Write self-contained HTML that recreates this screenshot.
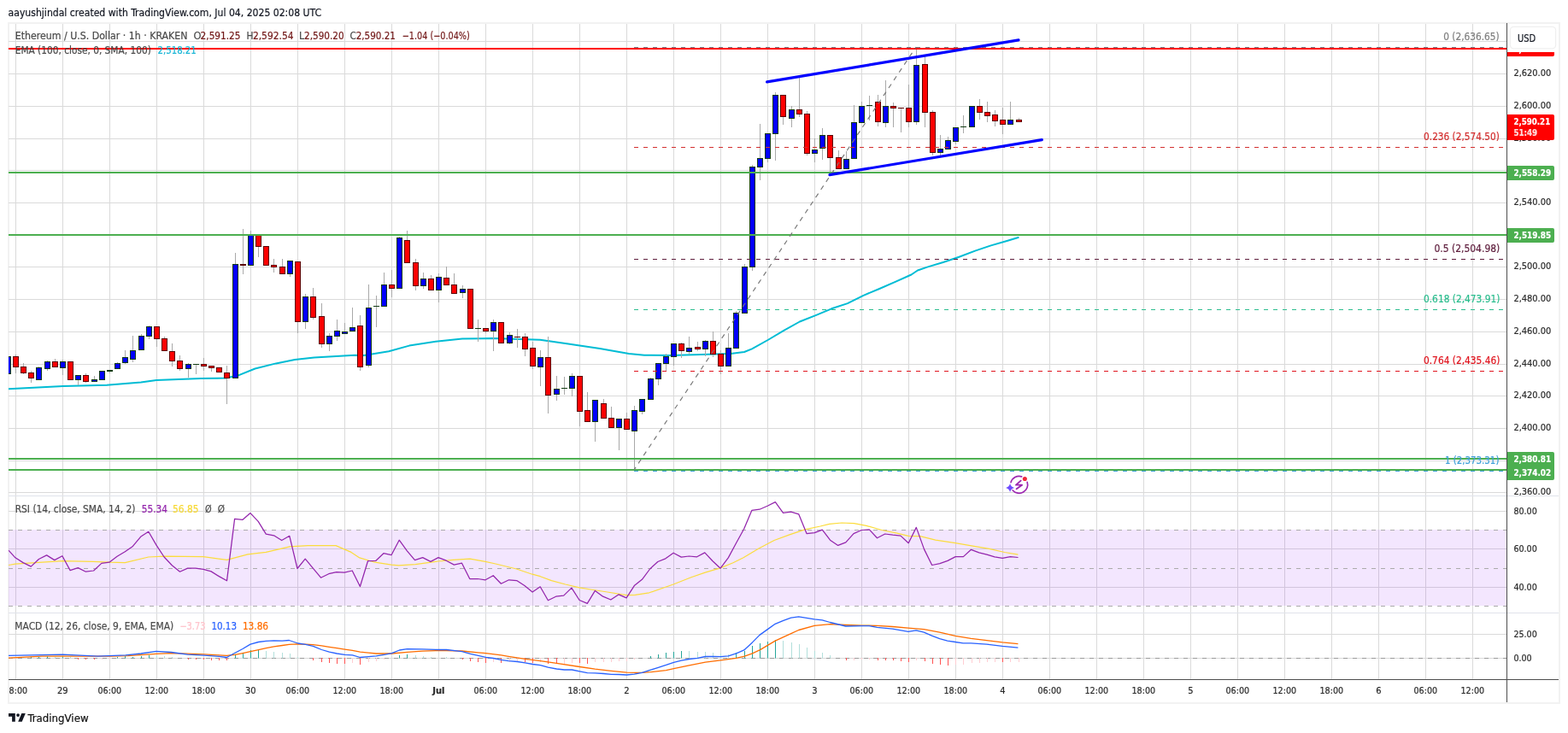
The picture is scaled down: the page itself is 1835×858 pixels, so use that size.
<!DOCTYPE html>
<html><head><meta charset="utf-8"><title>ETH/USD chart</title>
<style>
html,body{margin:0;padding:0;background:#fff;}
body{width:1835px;height:858px;overflow:hidden;}
svg{display:block;}
text{font-family:'DejaVu Sans Condensed', 'DejaVu Sans', 'Liberation Sans', sans-serif;font-stretch:condensed;stroke:currentColor;stroke-width:0.2px;}
</style></head><body>
<svg width="1835" height="858" viewBox="0 0 1835 858">
<defs>
<clipPath id="cm"><rect x="10" y="28" width="1753" height="552"/></clipPath>
<clipPath id="cr"><rect x="10" y="581" width="1753" height="136"/></clipPath>
<clipPath id="cd"><rect x="10" y="718" width="1753" height="77"/></clipPath>
<clipPath id="ct"><rect x="10" y="796" width="1753" height="26"/></clipPath>
</defs>
<rect x="0" y="0" width="1835" height="858" fill="#fff"/>

<rect x="10" y="27" width="1815" height="796" fill="none" stroke="#f2f2f2" stroke-width="2"/>
<path d="M18.5 28V795 M73.5 28V795 M128.5 28V795 M183.5 28V795 M238.5 28V795 M293.5 28V795 M348.5 28V795 M403.5 28V795 M458.5 28V795 M513.5 28V795 M568.5 28V795 M623.5 28V795 M678.5 28V795 M733.5 28V795 M788.5 28V795 M843.5 28V795 M898.5 28V795 M953.5 28V795 M1008.5 28V795 M1063.5 28V795 M1118.5 28V795 M1173.5 28V795 M1228.5 28V795 M1283.5 28V795 M1338.5 28V795 M1393.5 28V795 M1448.5 28V795 M1503.5 28V795 M1558.5 28V795 M1613.5 28V795 M1668.5 28V795 M1723.5 28V795" stroke="#dadada" stroke-width="1" fill="none"/>
<path d="M10 48.5H1763 M10 86.5H1763 M10 124.5H1763 M10 162.5H1763 M10 199.5H1763 M10 237.5H1763 M10 274.5H1763 M10 312.5H1763 M10 350.5H1763 M10 388.5H1763 M10 426.5H1763 M10 463.5H1763 M10 501.5H1763 M10 539.5H1763 M10 576.5H1763 M10 598.5H1763 M10 642.5H1763 M10 687.5H1763 M10 742.5H1763 M10 770.5H1763" stroke="#dadada" stroke-width="1" fill="none"/>
<rect x="10" y="620" width="1753" height="89" fill="rgb(163,63,247)" fill-opacity="0.13"/>
<path d="M10 620.5H1763M10 665.5H1763M10 709.5H1763" stroke="#ababab" stroke-width="1" stroke-dasharray="5 6" fill="none"/>
<path d="M10 770.5H1763" stroke="#9a9a9a" stroke-width="1" stroke-dasharray="5 6" fill="none"/>
<g clip-path="url(#cm)">
<polyline points="10,455.3 74,452 125,450.8 165,447.6 183,445 235,443.1 264,442.6 279,439.4 298.5,431.5 323,425.4 345,421 367.7,418.6 415,415.8 426,416.1 455,411.2 479,404.6 510,399.7 541,396.6 565,396.3 576,396.0 632,397.8 665,402.5 675,403.9 702,408.1 736,414.1 754,415.8 785,416.0 855,413.9 871,412 880,408.3 898.6,398 917.3,386.8 935.9,376.5 954.6,369.1 973.2,361.3 991.9,355.1 1010.5,345.8 1029.2,338 1047.8,329.9 1066.5,321.5 1073.9,316.5 1085.1,312.6 1103.8,307 1122.4,300.7 1141.1,293.6 1159.7,287.4 1178.4,282 1192.4,277.7" fill="none" stroke="#00bcd4" stroke-width="2" stroke-linejoin="round"/>
<path d="M9.5 414V440 M18.5 415V437 M27.5 425V438 M36.5 434V448 M45.5 429V445 M55.5 422V434 M64.5 420V430 M73.5 421V439 M82.5 423V445 M91.5 439V451 M100.5 437V448 M110.5 440V447 M119.5 434V445 M128.5 433V437 M137.5 424V432 M146.5 410V426 M155.5 393V424 M165.5 391V410 M174.5 381V397 M183.5 382V406 M192.5 394V411 M201.5 402V429 M210.5 416V434 M220.5 425V442 M229.5 426V438 M238.5 419V434 M247.5 428V435 M256.5 430V436 M265.5 428V473 M275.5 296V443 M284.5 268V321 M293.5 270V311 M302.5 275V301 M311.5 288V311 M320.5 303V319 M330.5 303V321 M339.5 305V324 M348.5 306V390 M357.5 344V385 M366.5 337V374 M376.5 355V407 M385.5 390V411 M394.5 374V399 M403.5 378V391 M412.5 360V388 M421.5 369V434 M431.5 333V430 M440.5 346V383 M449.5 319V359 M458.5 316V348 M467.5 277V338 M476.5 270V308 M486.5 303V340 M495.5 319V338 M504.5 322V340 M513.5 320V354 M522.5 312V334 M531.5 320V344 M541.5 334V349 M550.5 338V385 M559.5 374V400 M568.5 384V390 M577.5 374V411 M586.5 377V402 M596.5 389V403 M605.5 385V407 M614.5 390V417 M623.5 400V432 M632.5 410V452 M641.5 394V484 M651.5 440V469 M660.5 441V462 M669.5 437V464 M678.5 440V499 M687.5 459V494 M696.5 468V517 M706.5 467V490 M715.5 476V501 M724.5 490V527 M733.5 483V503 M742.5 475V550 M751.5 467V485 M761.5 442V468 M770.5 425V451 M779.5 414V435 M788.5 402V428 M797.5 401V419 M806.5 394V415 M816.5 400V411 M825.5 398V417 M834.5 388V418 M843.5 410V438 M852.5 390V429 M861.5 364V408 M871.5 309V367 M880.5 193V317 M889.5 145V211 M898.5 156V190 M907.5 108V188 M916.5 111V146 M926.5 124V149 M935.5 91V137 M944.5 130V182 M953.5 162V190 M962.5 150V187 M971.5 158V202 M981.5 176V198 M990.5 177V198 M999.5 123V186 M1008.5 119V144 M1017.5 112V141 M1027.5 111V148 M1036.5 94V149 M1045.5 120V149 M1054.5 126V155 M1063.5 99V149 M1072.5 55V146 M1082.5 66V149 M1091.5 129V182 M1100.5 158V182 M1109.5 160V175 M1118.5 149V169 M1127.5 135V156 M1137.5 124V149 M1146.5 116V140 M1155.5 119V143 M1164.5 129V148 M1173.5 126V157 M1182.5 119V146 M1192.5 138V143" stroke="#a9a9a9" stroke-width="1" fill="none"/>
<g shape-rendering="crispEdges"><rect x="6" y="417" width="7" height="21" fill="#123c12"/><rect x="7" y="418" width="5" height="19" fill="#0000ff"/><rect x="15" y="417" width="7" height="13" fill="#5a0000"/><rect x="16" y="418" width="5" height="11" fill="#ff0000"/><rect x="24" y="429" width="7" height="8" fill="#5a0000"/><rect x="25" y="430" width="5" height="6" fill="#ff0000"/><rect x="33" y="436" width="7" height="7" fill="#5a0000"/><rect x="34" y="437" width="5" height="5" fill="#ff0000"/><rect x="42" y="430" width="7" height="15" fill="#123c12"/><rect x="43" y="431" width="5" height="13" fill="#0000ff"/><rect x="52" y="423" width="7" height="9" fill="#123c12"/><rect x="53" y="424" width="5" height="7" fill="#0000ff"/><rect x="61" y="423" width="7" height="7" fill="#5a0000"/><rect x="62" y="424" width="5" height="5" fill="#ff0000"/><rect x="70" y="423" width="7" height="8" fill="#123c12"/><rect x="71" y="424" width="5" height="6" fill="#0000ff"/><rect x="79" y="423" width="7" height="22" fill="#5a0000"/><rect x="80" y="424" width="5" height="20" fill="#ff0000"/><rect x="88" y="439" width="7" height="6" fill="#123c12"/><rect x="89" y="440" width="5" height="4" fill="#0000ff"/><rect x="97" y="439" width="7" height="8" fill="#5a0000"/><rect x="98" y="440" width="5" height="6" fill="#ff0000"/><rect x="107" y="444" width="7" height="3" fill="#123c12"/><rect x="108" y="445" width="5" height="1" fill="#0000ff"/><rect x="116" y="434" width="7" height="11" fill="#123c12"/><rect x="117" y="435" width="5" height="9" fill="#0000ff"/><rect x="125" y="433" width="7" height="2" fill="#123c12"/><rect x="134" y="425" width="7" height="7" fill="#123c12"/><rect x="135" y="426" width="5" height="5" fill="#0000ff"/><rect x="143" y="418" width="7" height="7" fill="#123c12"/><rect x="144" y="419" width="5" height="5" fill="#0000ff"/><rect x="152" y="410" width="7" height="11" fill="#123c12"/><rect x="153" y="411" width="5" height="9" fill="#0000ff"/><rect x="162" y="393" width="7" height="17" fill="#123c12"/><rect x="163" y="394" width="5" height="15" fill="#0000ff"/><rect x="171" y="382" width="7" height="12" fill="#123c12"/><rect x="172" y="383" width="5" height="10" fill="#0000ff"/><rect x="180" y="382" width="7" height="15" fill="#5a0000"/><rect x="181" y="383" width="5" height="13" fill="#ff0000"/><rect x="189" y="396" width="7" height="15" fill="#5a0000"/><rect x="190" y="397" width="5" height="13" fill="#ff0000"/><rect x="198" y="411" width="7" height="12" fill="#5a0000"/><rect x="199" y="412" width="5" height="10" fill="#ff0000"/><rect x="207" y="422" width="7" height="10" fill="#5a0000"/><rect x="208" y="423" width="5" height="8" fill="#ff0000"/><rect x="217" y="426" width="7" height="6" fill="#123c12"/><rect x="218" y="427" width="5" height="4" fill="#0000ff"/><rect x="226" y="426" width="7" height="1" fill="#123c12"/><rect x="235" y="426" width="7" height="3" fill="#5a0000"/><rect x="236" y="427" width="5" height="1" fill="#ff0000"/><rect x="244" y="428" width="7" height="3" fill="#5a0000"/><rect x="245" y="429" width="5" height="1" fill="#ff0000"/><rect x="253" y="430" width="7" height="6" fill="#5a0000"/><rect x="254" y="431" width="5" height="4" fill="#ff0000"/><rect x="262" y="436" width="7" height="7" fill="#5a0000"/><rect x="263" y="437" width="5" height="5" fill="#ff0000"/><rect x="272" y="309" width="7" height="134" fill="#123c12"/><rect x="273" y="310" width="5" height="132" fill="#0000ff"/><rect x="281" y="309" width="7" height="2" fill="#5a0000"/><rect x="290" y="275" width="7" height="36" fill="#123c12"/><rect x="291" y="276" width="5" height="34" fill="#0000ff"/><rect x="299" y="275" width="7" height="14" fill="#5a0000"/><rect x="300" y="276" width="5" height="12" fill="#ff0000"/><rect x="308" y="288" width="7" height="23" fill="#5a0000"/><rect x="309" y="289" width="5" height="21" fill="#ff0000"/><rect x="317" y="310" width="7" height="3" fill="#5a0000"/><rect x="318" y="311" width="5" height="1" fill="#ff0000"/><rect x="327" y="312" width="7" height="9" fill="#5a0000"/><rect x="328" y="313" width="5" height="7" fill="#ff0000"/><rect x="336" y="305" width="7" height="16" fill="#123c12"/><rect x="337" y="306" width="5" height="14" fill="#0000ff"/><rect x="345" y="306" width="7" height="71" fill="#5a0000"/><rect x="346" y="307" width="5" height="69" fill="#ff0000"/><rect x="354" y="347" width="7" height="30" fill="#123c12"/><rect x="355" y="348" width="5" height="28" fill="#0000ff"/><rect x="363" y="347" width="7" height="25" fill="#5a0000"/><rect x="364" y="348" width="5" height="23" fill="#ff0000"/><rect x="373" y="370" width="7" height="33" fill="#5a0000"/><rect x="374" y="371" width="5" height="31" fill="#ff0000"/><rect x="382" y="393" width="7" height="10" fill="#123c12"/><rect x="383" y="394" width="5" height="8" fill="#0000ff"/><rect x="391" y="387" width="7" height="7" fill="#123c12"/><rect x="392" y="388" width="5" height="5" fill="#0000ff"/><rect x="400" y="388" width="7" height="3" fill="#123c12"/><rect x="401" y="389" width="5" height="1" fill="#0000ff"/><rect x="409" y="383" width="7" height="5" fill="#123c12"/><rect x="410" y="384" width="5" height="3" fill="#0000ff"/><rect x="418" y="381" width="7" height="49" fill="#5a0000"/><rect x="419" y="382" width="5" height="47" fill="#ff0000"/><rect x="428" y="360" width="7" height="68" fill="#123c12"/><rect x="429" y="361" width="5" height="66" fill="#0000ff"/><rect x="437" y="358" width="7" height="1" fill="#123c12"/><rect x="446" y="333" width="7" height="26" fill="#123c12"/><rect x="447" y="334" width="5" height="24" fill="#0000ff"/><rect x="455" y="333" width="7" height="5" fill="#5a0000"/><rect x="456" y="334" width="5" height="3" fill="#ff0000"/><rect x="464" y="278" width="7" height="60" fill="#123c12"/><rect x="465" y="279" width="5" height="58" fill="#0000ff"/><rect x="473" y="281" width="7" height="27" fill="#5a0000"/><rect x="474" y="282" width="5" height="25" fill="#ff0000"/><rect x="483" y="307" width="7" height="28" fill="#5a0000"/><rect x="484" y="308" width="5" height="26" fill="#ff0000"/><rect x="492" y="326" width="7" height="9" fill="#123c12"/><rect x="493" y="327" width="5" height="7" fill="#0000ff"/><rect x="501" y="326" width="7" height="14" fill="#5a0000"/><rect x="502" y="327" width="5" height="12" fill="#ff0000"/><rect x="510" y="324" width="7" height="16" fill="#123c12"/><rect x="511" y="325" width="5" height="14" fill="#0000ff"/><rect x="519" y="325" width="7" height="9" fill="#5a0000"/><rect x="520" y="326" width="5" height="7" fill="#ff0000"/><rect x="528" y="333" width="7" height="11" fill="#5a0000"/><rect x="529" y="334" width="5" height="9" fill="#ff0000"/><rect x="538" y="338" width="7" height="5" fill="#123c12"/><rect x="539" y="339" width="5" height="3" fill="#0000ff"/><rect x="547" y="338" width="7" height="47" fill="#5a0000"/><rect x="548" y="339" width="5" height="45" fill="#ff0000"/><rect x="556" y="384" width="7" height="1" fill="#123c12"/><rect x="565" y="384" width="7" height="4" fill="#5a0000"/><rect x="566" y="385" width="5" height="2" fill="#ff0000"/><rect x="574" y="377" width="7" height="11" fill="#123c12"/><rect x="575" y="378" width="5" height="9" fill="#0000ff"/><rect x="583" y="377" width="7" height="25" fill="#5a0000"/><rect x="584" y="378" width="5" height="23" fill="#ff0000"/><rect x="593" y="392" width="7" height="10" fill="#123c12"/><rect x="594" y="393" width="5" height="8" fill="#0000ff"/><rect x="602" y="394" width="7" height="1" fill="#5a0000"/><rect x="611" y="394" width="7" height="15" fill="#5a0000"/><rect x="612" y="395" width="5" height="13" fill="#ff0000"/><rect x="620" y="407" width="7" height="22" fill="#5a0000"/><rect x="621" y="408" width="5" height="20" fill="#ff0000"/><rect x="629" y="418" width="7" height="12" fill="#123c12"/><rect x="630" y="419" width="5" height="10" fill="#0000ff"/><rect x="638" y="418" width="7" height="45" fill="#5a0000"/><rect x="639" y="419" width="5" height="43" fill="#ff0000"/><rect x="648" y="455" width="7" height="7" fill="#123c12"/><rect x="649" y="456" width="5" height="5" fill="#0000ff"/><rect x="657" y="454" width="7" height="1" fill="#123c12"/><rect x="666" y="440" width="7" height="15" fill="#123c12"/><rect x="667" y="441" width="5" height="13" fill="#0000ff"/><rect x="675" y="440" width="7" height="42" fill="#5a0000"/><rect x="676" y="441" width="5" height="40" fill="#ff0000"/><rect x="684" y="480" width="7" height="14" fill="#5a0000"/><rect x="685" y="481" width="5" height="12" fill="#ff0000"/><rect x="693" y="468" width="7" height="26" fill="#123c12"/><rect x="694" y="469" width="5" height="24" fill="#0000ff"/><rect x="703" y="472" width="7" height="18" fill="#5a0000"/><rect x="704" y="473" width="5" height="16" fill="#ff0000"/><rect x="712" y="489" width="7" height="12" fill="#5a0000"/><rect x="713" y="490" width="5" height="10" fill="#ff0000"/><rect x="721" y="490" width="7" height="11" fill="#123c12"/><rect x="722" y="491" width="5" height="9" fill="#0000ff"/><rect x="730" y="490" width="7" height="13" fill="#5a0000"/><rect x="731" y="491" width="5" height="11" fill="#ff0000"/><rect x="739" y="480" width="7" height="25" fill="#123c12"/><rect x="740" y="481" width="5" height="23" fill="#0000ff"/><rect x="748" y="467" width="7" height="15" fill="#123c12"/><rect x="749" y="468" width="5" height="13" fill="#0000ff"/><rect x="758" y="443" width="7" height="25" fill="#123c12"/><rect x="759" y="444" width="5" height="23" fill="#0000ff"/><rect x="767" y="425" width="7" height="19" fill="#123c12"/><rect x="768" y="426" width="5" height="17" fill="#0000ff"/><rect x="776" y="417" width="7" height="9" fill="#123c12"/><rect x="777" y="418" width="5" height="7" fill="#0000ff"/><rect x="785" y="402" width="7" height="16" fill="#123c12"/><rect x="786" y="403" width="5" height="14" fill="#0000ff"/><rect x="794" y="402" width="7" height="9" fill="#5a0000"/><rect x="795" y="403" width="5" height="7" fill="#ff0000"/><rect x="803" y="407" width="7" height="5" fill="#123c12"/><rect x="804" y="408" width="5" height="3" fill="#0000ff"/><rect x="813" y="406" width="7" height="3" fill="#5a0000"/><rect x="814" y="407" width="5" height="1" fill="#ff0000"/><rect x="822" y="399" width="7" height="10" fill="#123c12"/><rect x="823" y="400" width="5" height="8" fill="#0000ff"/><rect x="831" y="399" width="7" height="16" fill="#5a0000"/><rect x="832" y="400" width="5" height="14" fill="#ff0000"/><rect x="840" y="414" width="7" height="15" fill="#5a0000"/><rect x="841" y="415" width="5" height="13" fill="#ff0000"/><rect x="849" y="407" width="7" height="22" fill="#123c12"/><rect x="850" y="408" width="5" height="20" fill="#0000ff"/><rect x="858" y="366" width="7" height="42" fill="#123c12"/><rect x="859" y="367" width="5" height="40" fill="#0000ff"/><rect x="868" y="312" width="7" height="55" fill="#123c12"/><rect x="869" y="313" width="5" height="53" fill="#0000ff"/><rect x="877" y="195" width="7" height="118" fill="#123c12"/><rect x="878" y="196" width="5" height="116" fill="#0000ff"/><rect x="886" y="185" width="7" height="11" fill="#123c12"/><rect x="887" y="186" width="5" height="9" fill="#0000ff"/><rect x="895" y="156" width="7" height="30" fill="#123c12"/><rect x="896" y="157" width="5" height="28" fill="#0000ff"/><rect x="904" y="111" width="7" height="46" fill="#123c12"/><rect x="905" y="112" width="5" height="44" fill="#0000ff"/><rect x="913" y="111" width="7" height="26" fill="#5a0000"/><rect x="914" y="112" width="5" height="24" fill="#ff0000"/><rect x="923" y="128" width="7" height="11" fill="#123c12"/><rect x="924" y="129" width="5" height="9" fill="#0000ff"/><rect x="932" y="128" width="7" height="6" fill="#5a0000"/><rect x="933" y="129" width="5" height="4" fill="#ff0000"/><rect x="941" y="133" width="7" height="47" fill="#5a0000"/><rect x="942" y="134" width="5" height="45" fill="#ff0000"/><rect x="950" y="175" width="7" height="5" fill="#123c12"/><rect x="951" y="176" width="5" height="3" fill="#0000ff"/><rect x="959" y="158" width="7" height="16" fill="#123c12"/><rect x="960" y="159" width="5" height="14" fill="#0000ff"/><rect x="968" y="158" width="7" height="27" fill="#5a0000"/><rect x="969" y="159" width="5" height="25" fill="#ff0000"/><rect x="978" y="184" width="7" height="14" fill="#5a0000"/><rect x="979" y="185" width="5" height="12" fill="#ff0000"/><rect x="987" y="186" width="7" height="12" fill="#123c12"/><rect x="988" y="187" width="5" height="10" fill="#0000ff"/><rect x="996" y="143" width="7" height="43" fill="#123c12"/><rect x="997" y="144" width="5" height="41" fill="#0000ff"/><rect x="1005" y="124" width="7" height="20" fill="#123c12"/><rect x="1006" y="125" width="5" height="18" fill="#0000ff"/><rect x="1014" y="123" width="7" height="1" fill="#123c12"/><rect x="1024" y="119" width="7" height="24" fill="#5a0000"/><rect x="1025" y="120" width="5" height="22" fill="#ff0000"/><rect x="1033" y="124" width="7" height="20" fill="#123c12"/><rect x="1034" y="125" width="5" height="18" fill="#0000ff"/><rect x="1042" y="124" width="7" height="3" fill="#5a0000"/><rect x="1043" y="125" width="5" height="1" fill="#ff0000"/><rect x="1051" y="126" width="7" height="1" fill="#5a0000"/><rect x="1060" y="126" width="7" height="17" fill="#5a0000"/><rect x="1061" y="127" width="5" height="15" fill="#ff0000"/><rect x="1069" y="76" width="7" height="67" fill="#123c12"/><rect x="1070" y="77" width="5" height="65" fill="#0000ff"/><rect x="1079" y="75" width="7" height="57" fill="#5a0000"/><rect x="1080" y="76" width="5" height="55" fill="#ff0000"/><rect x="1088" y="131" width="7" height="48" fill="#5a0000"/><rect x="1089" y="132" width="5" height="46" fill="#ff0000"/><rect x="1097" y="174" width="7" height="5" fill="#123c12"/><rect x="1098" y="175" width="5" height="3" fill="#0000ff"/><rect x="1106" y="164" width="7" height="11" fill="#123c12"/><rect x="1107" y="165" width="5" height="9" fill="#0000ff"/><rect x="1115" y="149" width="7" height="17" fill="#123c12"/><rect x="1116" y="150" width="5" height="15" fill="#0000ff"/><rect x="1124" y="148" width="7" height="1" fill="#123c12"/><rect x="1134" y="124" width="7" height="25" fill="#123c12"/><rect x="1135" y="125" width="5" height="23" fill="#0000ff"/><rect x="1143" y="124" width="7" height="8" fill="#5a0000"/><rect x="1144" y="125" width="5" height="6" fill="#ff0000"/><rect x="1152" y="131" width="7" height="5" fill="#5a0000"/><rect x="1153" y="132" width="5" height="3" fill="#ff0000"/><rect x="1161" y="134" width="7" height="8" fill="#5a0000"/><rect x="1162" y="135" width="5" height="6" fill="#ff0000"/><rect x="1170" y="140" width="7" height="6" fill="#5a0000"/><rect x="1171" y="141" width="5" height="4" fill="#ff0000"/><rect x="1179" y="140" width="7" height="6" fill="#123c12"/><rect x="1180" y="141" width="5" height="4" fill="#0000ff"/><rect x="1189" y="140" width="7" height="3" fill="#5a0000"/><rect x="1190" y="141" width="5" height="1" fill="#ff0000"/></g>
<path d="M10 57H1763" stroke="#ff0000" stroke-width="2"/>
<path d="M10 202H1763" stroke="#4caf50" stroke-width="2"/>
<path d="M10 275H1763" stroke="#4caf50" stroke-width="2"/>
<path d="M10 537H1763" stroke="#4caf50" stroke-width="2"/>
<path d="M10 550H1763" stroke="#4caf50" stroke-width="2"/>
<path d="M742 55.5H1760" stroke="#787b86" stroke-width="1" stroke-dasharray="5 6" fill="none"/>
<path d="M742 172.5H1760" stroke="#d32f2f" stroke-width="1" stroke-dasharray="5 6" fill="none"/>
<path d="M742 303.5H1760" stroke="#5e1d3c" stroke-width="1" stroke-dasharray="5 6" fill="none"/>
<path d="M742 362.5H1760" stroke="#2bbd8e" stroke-width="1" stroke-dasharray="5 6" fill="none"/>
<path d="M742 434.5H1760" stroke="#e0141e" stroke-width="1" stroke-dasharray="5 6" fill="none"/>
<path d="M742 551.5H1760" stroke="#3f9fd8" stroke-width="1" stroke-dasharray="5 6" fill="none"/>
<path d="M742 550L1072 55" stroke="#767676" stroke-width="1.15" stroke-dasharray="5.5 5.5" stroke-dashoffset="1.8" fill="none"/>
<path d="M897.6 95.9L1192 46.8" stroke="#0000ff" stroke-width="3.2" stroke-linecap="round"/>
<path d="M971 204.7L1219.3 163.6" stroke="#0000ff" stroke-width="3.2" stroke-linecap="round"/>
</g>
<g clip-path="url(#cr)">
<polyline points="10,661.5 18,660.2 73,656.6 109.5,657.3 128,658.2 146.3,658.6 173.8,652 192.2,651.2 238,651.7 265.5,655.3 290,648.9 311.3,646.4 339,639.9 360.3,638.7 393,638.6 411,646.4 420.8,652.9 437.1,657.8 458.1,661.1 466.6,661.9 486.2,660.6 513,657 530.3,655.4 550,654.2 568,657.4 580,660 604.5,666 623,672.2 632.3,674.7 645.4,679.6 661.7,684 678.1,687.8 694.4,690.5 710.8,693 733,696.6 743.5,696.3 759.8,693.8 788,684 808.9,675.8 825.2,670.1 843,664.9 857.9,658.7 870,652.8 888,642 906,632.5 924,625.9 941.9,619.9 959.9,616 970.7,613.3 985.1,612 999.5,612.7 1013.9,615.4 1031.9,620.5 1049.8,624.1 1063,627.3 1076.8,627.7 1094.8,632.2 1118.2,635.7 1139.8,639.3 1157.7,642.4 1175.7,646.5 1191.4,649.2" fill="none" stroke="#fbdc3c" stroke-width="1.2" stroke-linejoin="round"/>
<polyline points="10.0,644.2 17.9,652.8 27.1,658.6 36.3,663.1 45.4,654.5 54.6,649.9 63.8,655.6 72.9,650.7 82.1,667.6 91.3,664.6 100.4,669.2 109.6,668.0 118.8,659.4 127.9,658.2 137.1,651.2 146.3,645.8 155.4,639.4 164.6,628.3 173.8,622.3 183.0,638.1 192.1,652.0 201.3,661.8 210.5,669.2 219.6,665.1 228.8,665.1 238.0,666.4 247.1,668.9 256.3,674.6 265.5,679.8 274.6,607.4 283.8,608.4 293.0,600.6 302.2,610.4 311.3,625.1 320.5,626.8 329.7,632.5 338.8,627.3 348.0,665.5 357.2,654.2 366.3,665.2 375.5,676.2 384.7,671.7 393.8,669.6 403.0,670.1 412.2,668.0 421.4,686.5 430.5,656.7 439.7,656.5 448.9,647.7 458.0,649.7 467.2,632.2 476.4,644.8 485.5,655.7 494.7,652.6 503.9,657.4 513.0,652.6 522.2,656.2 531.4,661.1 540.5,659.2 549.7,677.5 558.9,677.5 568.1,678.8 577.2,673.7 586.4,683.2 595.6,678.8 604.7,679.6 613.9,685.6 623.1,693.0 632.2,686.8 641.4,702.8 650.6,698.2 659.7,697.1 668.9,688.1 678.1,702.5 687.3,706.4 696.4,691.4 705.6,698.2 714.8,702.0 723.9,695.9 733.1,699.9 742.3,685.6 751.4,678.3 760.6,666.0 769.8,657.5 778.9,653.8 788.1,647.2 797.3,652.1 806.4,651.0 815.6,651.8 824.8,646.9 834.0,656.7 843.1,665.2 852.3,652.9 861.5,635.8 870.6,619.3 879.8,597.4 889.0,596.2 898.1,592.2 907.3,587.6 916.5,600.3 925.6,599.2 934.8,601.9 944.0,624.6 953.2,623.7 962.3,620.1 971.5,632.2 980.7,638.4 989.8,634.8 999.0,624.6 1008.2,620.5 1017.3,619.9 1026.5,629.8 1035.7,625.0 1044.8,626.2 1054.0,627.1 1063.2,635.7 1072.3,617.4 1081.5,642.9 1090.7,661.5 1099.9,659.7 1109.0,656.4 1118.2,651.6 1127.4,651.6 1136.5,643.3 1145.7,646.9 1154.9,649.2 1164.0,651.9 1173.2,653.4 1182.4,651.6 1191.5,652.5" fill="none" stroke="#9325ac" stroke-width="1.25" stroke-linejoin="round"/>
</g>
<g clip-path="url(#cd)">
<path d="M27.5 770.5V769 M64.5 770.5V769 M82.5 770.5V769 M183.5 770.5V767 M192.5 770.5V768 M201.5 770.5V769 M311.5 770.5V762 M320.5 770.5V763 M330.5 770.5V764 M339.5 770.5V765 M348.5 770.5V769 M486.5 770.5V767 M495.5 770.5V768 M504.5 770.5V769 M522.5 770.5V769 M806.5 770.5V762 M816.5 770.5V763 M825.5 770.5V763 M834.5 770.5V764 M843.5 770.5V765 M852.5 770.5V766 M916.5 770.5V750 M926.5 770.5V752 M935.5 770.5V754 M944.5 770.5V758 M953.5 770.5V762 M962.5 770.5V764 M971.5 770.5V767" stroke="#b2dfdb" stroke-width="1" fill="none"/>
<path d="M36.5 770.5V769 M45.5 770.5V769 M55.5 770.5V768 M73.5 770.5V768 M137.5 770.5V769 M146.5 770.5V768 M155.5 770.5V769 M165.5 770.5V768 M174.5 770.5V767 M275.5 770.5V767 M284.5 770.5V764 M293.5 770.5V761 M302.5 770.5V761 M467.5 770.5V767 M476.5 770.5V766 M761.5 770.5V768 M770.5 770.5V766 M779.5 770.5V764 M788.5 770.5V763 M797.5 770.5V762 M861.5 770.5V764 M871.5 770.5V762 M880.5 770.5V756 M889.5 770.5V753 M898.5 770.5V751 M907.5 770.5V749" stroke="#26a69a" stroke-width="1" fill="none"/>
<path d="M91.5 770V772 M100.5 770V772 M110.5 770V772 M220.5 770V772 M229.5 770V772 M238.5 770V772 M247.5 770V773 M256.5 770V773 M265.5 770V773 M366.5 770V773 M376.5 770V775 M385.5 770V776 M394.5 770V777 M403.5 770V777 M421.5 770V778 M541.5 770V772 M550.5 770V774 M559.5 770V775 M568.5 770V776 M586.5 770V776 M614.5 770V775 M623.5 770V776 M641.5 770V777 M651.5 770V777 M678.5 770V776 M687.5 770V777 M990.5 770V773 M1027.5 770V773 M1036.5 770V773 M1045.5 770V773 M1054.5 770V774 M1063.5 770V775 M1082.5 770V774 M1091.5 770V777 M1100.5 770V778 M1109.5 770V779 M1173.5 770V775" stroke="#ff5252" stroke-width="1" fill="none"/>
<path d="M119.5 770V772 M128.5 770V772 M412.5 770V776 M431.5 770V775 M440.5 770V774 M449.5 770V772 M577.5 770V775 M596.5 770V775 M605.5 770V775 M632.5 770V775 M660.5 770V777 M669.5 770V776 M696.5 770V775 M706.5 770V775 M715.5 770V775 M724.5 770V774 M733.5 770V774 M742.5 770V772 M999.5 770V773 M1008.5 770V772 M1017.5 770V772 M1072.5 770V773 M1118.5 770V778 M1127.5 770V778 M1137.5 770V776 M1146.5 770V776 M1155.5 770V775 M1164.5 770V775 M1182.5 770V775 M1192.5 770V775" stroke="#ffcdd2" stroke-width="1" fill="none"/>
<polyline points="10,770.2 49,768.1 130.8,768.1 150,767.6 182.7,765.4 200.7,764.6 219.5,765.1 239,765.9 256.3,766.8 265.3,767.3 275,766.4 284,764.6 293,762.7 302.5,760.7 311.4,758.7 320.5,756.9 330.4,755.5 338.3,754.4 348.6,753.8 357.6,754.2 366.4,754.6 376.4,755.8 385.4,757.3 394.3,758.7 403.5,760.1 412.5,761.4 421.5,763.2 431.3,764.2 440.3,765 458.5,765 476.5,763.4 494,762.2 513.5,761.4 531.5,761.8 540.7,762 559.5,763.8 568.5,764.6 586.5,766.9 595,768.4 614.5,771.4 632.4,773.6 651.4,776.4 678.4,780.5 696.4,783.2 715.4,785.4 733.3,787.1 745,787.4 751.4,787.4 761.4,786.6 779.5,784.6 788.5,782.7 806.5,778.8 825.4,775.2 843.4,772.9 852.4,771.7 861.6,770.4 871.4,768.2 880.5,764.9 890,760.4 907.2,750.1 925.7,741.6 934.7,737.5 953.1,732.4 971.4,730.6 989.8,731.5 1008.1,732.1 1026.5,732.4 1044.6,733.5 1063,735.1 1081.3,736.6 1099.7,740.2 1118,744.3 1136.3,747.4 1154.7,749.7 1173,751.9 1191.4,753.7" fill="none" stroke="#ff6d00" stroke-width="1.3" stroke-linejoin="round"/>
<polyline points="10,767.3 73.6,766.2 114.4,768.1 147,766.8 165,765 182.7,762.4 200.7,763.5 219.5,766.2 239,767.2 256.3,768.4 265.3,769.5 275,764.3 284,759.5 293,754.1 302.5,751.5 311.4,750.3 320.5,749.9 330.4,750.1 338.3,749.5 348.6,753 357.6,754.4 366.4,756.4 376.4,760.5 385.4,763.2 394.3,765 403.5,766.4 412.5,766.9 421.5,769.5 431.3,768.7 440.3,767.9 449.5,766.4 458.5,764.6 467.5,761 476.5,759.7 494,759.9 513.5,760.5 522.5,760.5 540.7,762.6 550.5,765.4 568.5,769.4 577.5,770.5 586.5,772.4 595,773.6 605.5,774.5 614.5,775.9 623.5,777.5 632.4,778.7 641.4,781.2 651.4,783 660.4,784 669.4,784 678.4,785.9 687.4,787.7 696.4,787.9 706.4,788.5 715.4,789.3 724.4,789.5 733.3,790 742.3,789.2 751.4,787.4 761.4,784.2 770.4,781.3 779.5,778.4 788.5,775.3 797.5,773.1 806.5,771.5 816.5,770.4 825.4,768.5 834.4,768.5 843.4,768.6 852.4,767.8 861.6,764.9 870.8,760.9 880.5,751.9 888.9,743.4 898,736.9 907.2,730.3 916.8,726.3 925.7,723.1 934.7,721.8 953.1,724.9 962.3,725.8 971.4,728.5 989.8,733 1008.1,732.6 1017.3,732.6 1026.5,734.4 1044.6,736.2 1063,739.3 1072.1,737.8 1081.3,740.2 1090.5,744.1 1099.7,747.7 1108.8,750.1 1118,751.5 1127.2,752.8 1136.3,752.8 1154.7,754.2 1173,756.4 1191.4,758.2" fill="none" stroke="#2962ff" stroke-width="1.3" stroke-linejoin="round"/>
</g>
<path d="M10 580.5H1824M10 717.5H1824" stroke="#e0e3eb" stroke-width="1"/>
<path d="M10 795.5H1824" stroke="#4d4d4d" stroke-width="1"/>
<path d="M1763.5 27V822" stroke="#4d4d4d" stroke-width="1"/>
<g transform="translate(1192.65,567.35)">
<path d="M-9.6 -2.79A10 10 0 0 1 3.02 -9.53" stroke="#9c27b0" stroke-width="1.7" fill="none" stroke-linecap="round"/>
<path d="M9.51 -3.07A10 10 0 0 1 -7.5 6.61" stroke="#9c27b0" stroke-width="1.7" fill="none" stroke-linecap="round"/>
<path d="M2.0 -4.7L-3.7 0.3H3.4L-3.0 5.0" stroke="#9c27b0" stroke-width="1.9" fill="none" stroke-linejoin="round" stroke-linecap="round"/>
<circle cx="6.7" cy="-6.9" r="2.55" fill="#f0283c"/>
<path d="M-10.6 -1.4Q-9.549999999999999 2.55 -5.6 3.6Q-9.549999999999999 4.65 -10.6 8.6Q-11.65 4.65 -15.6 3.6Q-11.65 2.55 -10.6 -1.4Z" fill="#6e4cff"/>
</g>
<text x="9.6" y="18.9" font-size="12.1" fill="#131722" color="#131722" textLength="366.5" lengthAdjust="spacingAndGlyphs">aayushjindal created with TradingView.com, Jul 04, 2025 02:08 UTC</text>
<text x="17.7" y="45.8" font-size="12" fill="#4a4a4a" color="#4a4a4a" textLength="201.8" lengthAdjust="spacingAndGlyphs">Ethereum / U.S. Dollar · 1h · KRAKEN</text>
<text x="226.4" y="45.8" font-size="12" fill="#4a4a4a" color="#4a4a4a" textLength="9.0" lengthAdjust="spacingAndGlyphs">O</text>
<text x="234.6" y="45.8" font-size="12" fill="#731a1a" color="#731a1a" textLength="46.9" lengthAdjust="spacingAndGlyphs">2,591.25</text>
<text x="288.4" y="45.8" font-size="12" fill="#4a4a4a" color="#4a4a4a" textLength="8.0" lengthAdjust="spacingAndGlyphs">H</text>
<text x="295.9" y="45.8" font-size="12" fill="#731a1a" color="#731a1a" textLength="47.6" lengthAdjust="spacingAndGlyphs">2,592.54</text>
<text x="350.1" y="45.8" font-size="12" fill="#4a4a4a" color="#4a4a4a" textLength="6.1" lengthAdjust="spacingAndGlyphs">L</text>
<text x="356.1" y="45.8" font-size="12" fill="#731a1a" color="#731a1a" textLength="46.5" lengthAdjust="spacingAndGlyphs">2,590.20</text>
<text x="409.6" y="45.8" font-size="12" fill="#4a4a4a" color="#4a4a4a" textLength="7.2" lengthAdjust="spacingAndGlyphs">C</text>
<text x="416.7" y="45.8" font-size="12" fill="#731a1a" color="#731a1a" textLength="46.2" lengthAdjust="spacingAndGlyphs">2,590.21</text>
<text x="470.7" y="45.8" font-size="12" fill="#731a1a" color="#731a1a" textLength="79.1" lengthAdjust="spacingAndGlyphs">−1.04 (−0.04%)</text>
<text x="17.7" y="62.6" font-size="12" fill="#4a4a4a" color="#4a4a4a" textLength="159.1" lengthAdjust="spacingAndGlyphs">EMA (100, close, 0, SMA, 100)</text>
<text x="184.5" y="62.6" font-size="12" fill="#1cb6d6" color="#1cb6d6" textLength="45.3" lengthAdjust="spacingAndGlyphs">2,518.21</text>
<text x="17.7" y="599.7" font-size="12" fill="#4a4a4a" color="#4a4a4a" textLength="140.7" lengthAdjust="spacingAndGlyphs">RSI (14, close, SMA, 14, 2)</text>
<text x="165.8" y="599.7" font-size="12" fill="#9325ac" color="#9325ac" textLength="30.2" lengthAdjust="spacingAndGlyphs">55.34</text>
<text x="202.1" y="599.7" font-size="12" fill="#f7d937" color="#f7d937" textLength="30.3" lengthAdjust="spacingAndGlyphs">56.85</text>
<text x="240.0" y="599.7" font-size="12" fill="#4a4a4a" color="#4a4a4a" textLength="7.6" lengthAdjust="spacingAndGlyphs">Ø</text>
<text x="254.8" y="599.7" font-size="12" fill="#4a4a4a" color="#4a4a4a" textLength="8.2" lengthAdjust="spacingAndGlyphs">Ø</text>
<text x="17.3" y="736.8" font-size="12" fill="#4a4a4a" color="#4a4a4a" textLength="186.0" lengthAdjust="spacingAndGlyphs">MACD (12, 26, close, 9, EMA, EMA)</text>
<text x="210.4" y="736.8" font-size="12" fill="#ffc4cc" color="#ffc4cc" textLength="30.0" lengthAdjust="spacingAndGlyphs">−3.73</text>
<text x="247.4" y="736.8" font-size="12" fill="#2962ff" color="#2962ff" textLength="29.6" lengthAdjust="spacingAndGlyphs">10.13</text>
<text x="283.9" y="736.8" font-size="12" fill="#ff6d00" color="#ff6d00" textLength="30.2" lengthAdjust="spacingAndGlyphs">13.86</text>
<text x="1689.3" y="46.7" font-size="12" fill="#808080" color="#808080" textLength="65.3" lengthAdjust="spacingAndGlyphs">0 (2,636.65)</text>
<text x="1666.1" y="163.9" font-size="12" fill="#d32f2f" color="#d32f2f" textLength="88.7" lengthAdjust="spacingAndGlyphs">0.236 (2,574.50)</text>
<text x="1678.4" y="294.9" font-size="12" fill="#5e1d3c" color="#5e1d3c" textLength="76.9" lengthAdjust="spacingAndGlyphs">0.5 (2,504.98)</text>
<text x="1666.0" y="354.3" font-size="12" fill="#2bbd8e" color="#2bbd8e" textLength="89.3" lengthAdjust="spacingAndGlyphs">0.618 (2,473.91)</text>
<text x="1666.0" y="426.2" font-size="12" fill="#e0141e" color="#e0141e" textLength="89.3" lengthAdjust="spacingAndGlyphs">0.764 (2,435.46)</text>
<text x="1690.9" y="542.9" font-size="12" fill="#3f9fd8" color="#3f9fd8" textLength="63.5" lengthAdjust="spacingAndGlyphs">1 (2,373.31)</text>
<text x="1771.4" y="89.1" font-size="11.2" fill="#2a2a2a" color="#2a2a2a" textLength="43.9" lengthAdjust="spacingAndGlyphs">2,620.00</text>
<text x="1771.4" y="127.1" font-size="11.2" fill="#2a2a2a" color="#2a2a2a" textLength="43.9" lengthAdjust="spacingAndGlyphs">2,600.00</text>
<text x="1771.4" y="165.1" font-size="11.2" fill="#2a2a2a" color="#2a2a2a" textLength="43.9" lengthAdjust="spacingAndGlyphs">2,580.00</text>
<text x="1771.4" y="202.1" font-size="11.2" fill="#2a2a2a" color="#2a2a2a" textLength="43.9" lengthAdjust="spacingAndGlyphs">2,560.00</text>
<text x="1771.4" y="240.1" font-size="11.2" fill="#2a2a2a" color="#2a2a2a" textLength="43.9" lengthAdjust="spacingAndGlyphs">2,540.00</text>
<text x="1771.4" y="277.1" font-size="11.2" fill="#2a2a2a" color="#2a2a2a" textLength="43.9" lengthAdjust="spacingAndGlyphs">2,520.00</text>
<text x="1771.4" y="315.1" font-size="11.2" fill="#2a2a2a" color="#2a2a2a" textLength="43.9" lengthAdjust="spacingAndGlyphs">2,500.00</text>
<text x="1771.4" y="353.1" font-size="11.2" fill="#2a2a2a" color="#2a2a2a" textLength="43.9" lengthAdjust="spacingAndGlyphs">2,480.00</text>
<text x="1771.4" y="391.1" font-size="11.2" fill="#2a2a2a" color="#2a2a2a" textLength="43.9" lengthAdjust="spacingAndGlyphs">2,460.00</text>
<text x="1771.4" y="429.1" font-size="11.2" fill="#2a2a2a" color="#2a2a2a" textLength="43.9" lengthAdjust="spacingAndGlyphs">2,440.00</text>
<text x="1771.4" y="466.1" font-size="11.2" fill="#2a2a2a" color="#2a2a2a" textLength="43.9" lengthAdjust="spacingAndGlyphs">2,420.00</text>
<text x="1771.4" y="504.1" font-size="11.2" fill="#2a2a2a" color="#2a2a2a" textLength="43.9" lengthAdjust="spacingAndGlyphs">2,400.00</text>
<text x="1771.4" y="542.1" font-size="11.2" fill="#2a2a2a" color="#2a2a2a" textLength="43.9" lengthAdjust="spacingAndGlyphs">2,380.00</text>
<text x="1771.4" y="579.1" font-size="11.2" fill="#2a2a2a" color="#2a2a2a" textLength="43.9" lengthAdjust="spacingAndGlyphs">2,360.00</text>
<text x="1771.4" y="601.9" font-size="11.2" fill="#2a2a2a" color="#2a2a2a" textLength="27.4" lengthAdjust="spacingAndGlyphs">80.00</text>
<text x="1771.4" y="645.9" font-size="11.2" fill="#2a2a2a" color="#2a2a2a" textLength="27.4" lengthAdjust="spacingAndGlyphs">60.00</text>
<text x="1771.4" y="690.9" font-size="11.2" fill="#2a2a2a" color="#2a2a2a" textLength="27.4" lengthAdjust="spacingAndGlyphs">40.00</text>
<text x="1771.4" y="745.9" font-size="11.2" fill="#2a2a2a" color="#2a2a2a" textLength="27.4" lengthAdjust="spacingAndGlyphs">25.00</text>
<text x="1771.4" y="773.9" font-size="11.2" fill="#2a2a2a" color="#2a2a2a" textLength="21.2" lengthAdjust="spacingAndGlyphs">0.00</text>
<rect x="1764" y="48" width="55" height="18" rx="2" fill="#ff0000"/>
<rect x="1764" y="48" width="4" height="18" fill="#ff0000"/>
<text x="1771.4" y="60.9" font-size="11.2" fill="#ffffff" color="#ffffff" font-weight="bold" textLength="43.7" lengthAdjust="spacingAndGlyphs">2,635.40</text>
<rect x="1764" y="134" width="55" height="30" rx="2" fill="#ff0000"/>
<rect x="1764" y="134" width="4" height="30" fill="#ff0000"/>
<text x="1771.4" y="145.7" font-size="11.2" fill="#ffffff" color="#ffffff" font-weight="bold" textLength="42.8" lengthAdjust="spacingAndGlyphs">2,590.21</text>
<text x="1771.4" y="159.1" font-size="11.2" fill="#ffdcdc" color="#ffdcdc" font-weight="bold" textLength="27.8" lengthAdjust="spacingAndGlyphs">51:49</text>
<rect x="1764" y="194" width="55" height="17" rx="2" fill="#4caf50"/>
<rect x="1764" y="194" width="4" height="17" fill="#4caf50"/>
<text x="1771.4" y="206.2" font-size="11.2" fill="#ffffff" color="#ffffff" font-weight="bold" textLength="43.7" lengthAdjust="spacingAndGlyphs">2,558.29</text>
<rect x="1764" y="267" width="55" height="17" rx="2" fill="#4caf50"/>
<rect x="1764" y="267" width="4" height="17" fill="#4caf50"/>
<text x="1771.4" y="279.4" font-size="11.2" fill="#ffffff" color="#ffffff" font-weight="bold" textLength="43.7" lengthAdjust="spacingAndGlyphs">2,519.85</text>
<rect x="1764" y="529" width="55" height="33" rx="2" fill="#4caf50"/>
<rect x="1764" y="529" width="4" height="33" fill="#4caf50"/>
<text x="1771.4" y="540.8" font-size="11.2" fill="#ffffff" color="#ffffff" font-weight="bold" textLength="43.7" lengthAdjust="spacingAndGlyphs">2,380.81</text>
<text x="1771.4" y="557.4" font-size="11.2" fill="#ffffff" color="#ffffff" font-weight="bold" textLength="43.7" lengthAdjust="spacingAndGlyphs">2,374.02</text>
<rect x="1764" y="28" width="60" height="33" fill="#ffffff"/>
<rect x="1767.3" y="31.3" width="53.4" height="25.6" rx="4" fill="#ffffff" stroke="#ececec" stroke-width="1"/>
<text x="1775.9" y="48.8" font-size="12" fill="#131722" color="#131722" textLength="21.2" lengthAdjust="spacingAndGlyphs">USD</text>
<g clip-path="url(#ct)">
<text x="18.3" y="811.9" font-size="11" fill="#2a2a2a" color="#2a2a2a" text-anchor="middle" textLength="27.6" lengthAdjust="spacingAndGlyphs">18:00</text>
<text x="73.3" y="811.9" font-size="11" fill="#2a2a2a" color="#2a2a2a" text-anchor="middle">29</text>
<text x="128.3" y="811.9" font-size="11" fill="#2a2a2a" color="#2a2a2a" text-anchor="middle" textLength="27.6" lengthAdjust="spacingAndGlyphs">06:00</text>
<text x="183.3" y="811.9" font-size="11" fill="#2a2a2a" color="#2a2a2a" text-anchor="middle" textLength="27.6" lengthAdjust="spacingAndGlyphs">12:00</text>
<text x="238.3" y="811.9" font-size="11" fill="#2a2a2a" color="#2a2a2a" text-anchor="middle" textLength="27.6" lengthAdjust="spacingAndGlyphs">18:00</text>
<text x="293.3" y="811.9" font-size="11" fill="#2a2a2a" color="#2a2a2a" text-anchor="middle">30</text>
<text x="348.3" y="811.9" font-size="11" fill="#2a2a2a" color="#2a2a2a" text-anchor="middle" textLength="27.6" lengthAdjust="spacingAndGlyphs">06:00</text>
<text x="403.3" y="811.9" font-size="11" fill="#2a2a2a" color="#2a2a2a" text-anchor="middle" textLength="27.6" lengthAdjust="spacingAndGlyphs">12:00</text>
<text x="458.3" y="811.9" font-size="11" fill="#2a2a2a" color="#2a2a2a" text-anchor="middle" textLength="27.6" lengthAdjust="spacingAndGlyphs">18:00</text>
<text x="513.3" y="811.9" font-size="11" fill="#2a2a2a" color="#2a2a2a" font-weight="bold" text-anchor="middle">Jul</text>
<text x="568.3" y="811.9" font-size="11" fill="#2a2a2a" color="#2a2a2a" text-anchor="middle" textLength="27.6" lengthAdjust="spacingAndGlyphs">06:00</text>
<text x="623.3" y="811.9" font-size="11" fill="#2a2a2a" color="#2a2a2a" text-anchor="middle" textLength="27.6" lengthAdjust="spacingAndGlyphs">12:00</text>
<text x="678.3" y="811.9" font-size="11" fill="#2a2a2a" color="#2a2a2a" text-anchor="middle" textLength="27.6" lengthAdjust="spacingAndGlyphs">18:00</text>
<text x="733.3" y="811.9" font-size="11" fill="#2a2a2a" color="#2a2a2a" text-anchor="middle">2</text>
<text x="788.3" y="811.9" font-size="11" fill="#2a2a2a" color="#2a2a2a" text-anchor="middle" textLength="27.6" lengthAdjust="spacingAndGlyphs">06:00</text>
<text x="843.3" y="811.9" font-size="11" fill="#2a2a2a" color="#2a2a2a" text-anchor="middle" textLength="27.6" lengthAdjust="spacingAndGlyphs">12:00</text>
<text x="898.3" y="811.9" font-size="11" fill="#2a2a2a" color="#2a2a2a" text-anchor="middle" textLength="27.6" lengthAdjust="spacingAndGlyphs">18:00</text>
<text x="953.3" y="811.9" font-size="11" fill="#2a2a2a" color="#2a2a2a" text-anchor="middle">3</text>
<text x="1008.3" y="811.9" font-size="11" fill="#2a2a2a" color="#2a2a2a" text-anchor="middle" textLength="27.6" lengthAdjust="spacingAndGlyphs">06:00</text>
<text x="1063.3" y="811.9" font-size="11" fill="#2a2a2a" color="#2a2a2a" text-anchor="middle" textLength="27.6" lengthAdjust="spacingAndGlyphs">12:00</text>
<text x="1118.3" y="811.9" font-size="11" fill="#2a2a2a" color="#2a2a2a" text-anchor="middle" textLength="27.6" lengthAdjust="spacingAndGlyphs">18:00</text>
<text x="1173.3" y="811.9" font-size="11" fill="#2a2a2a" color="#2a2a2a" text-anchor="middle">4</text>
<text x="1228.3" y="811.9" font-size="11" fill="#2a2a2a" color="#2a2a2a" text-anchor="middle" textLength="27.6" lengthAdjust="spacingAndGlyphs">06:00</text>
<text x="1283.3" y="811.9" font-size="11" fill="#2a2a2a" color="#2a2a2a" text-anchor="middle" textLength="27.6" lengthAdjust="spacingAndGlyphs">12:00</text>
<text x="1338.3" y="811.9" font-size="11" fill="#2a2a2a" color="#2a2a2a" text-anchor="middle" textLength="27.6" lengthAdjust="spacingAndGlyphs">18:00</text>
<text x="1393.3" y="811.9" font-size="11" fill="#2a2a2a" color="#2a2a2a" text-anchor="middle">5</text>
<text x="1448.3" y="811.9" font-size="11" fill="#2a2a2a" color="#2a2a2a" text-anchor="middle" textLength="27.6" lengthAdjust="spacingAndGlyphs">06:00</text>
<text x="1503.3" y="811.9" font-size="11" fill="#2a2a2a" color="#2a2a2a" text-anchor="middle" textLength="27.6" lengthAdjust="spacingAndGlyphs">12:00</text>
<text x="1558.3" y="811.9" font-size="11" fill="#2a2a2a" color="#2a2a2a" text-anchor="middle" textLength="27.6" lengthAdjust="spacingAndGlyphs">18:00</text>
<text x="1613.3" y="811.9" font-size="11" fill="#2a2a2a" color="#2a2a2a" text-anchor="middle">6</text>
<text x="1668.3" y="811.9" font-size="11" fill="#2a2a2a" color="#2a2a2a" text-anchor="middle" textLength="27.6" lengthAdjust="spacingAndGlyphs">06:00</text>
<text x="1723.3" y="811.9" font-size="11" fill="#2a2a2a" color="#2a2a2a" text-anchor="middle" textLength="27.6" lengthAdjust="spacingAndGlyphs">12:00</text>
</g>
<g fill="#131722">
<path d="M10 835.1H17.8V844.7H14.1V838.7H10Z"/>
<circle cx="21.06" cy="837.1" r="1.9"/>
<path d="M25.3 835.1H29.8L25.7 844.7H21.2Z"/>
</g>
<text x="32.4" y="844.6" font-size="12.5" fill="#111111" color="#111111" textLength="71.2" lengthAdjust="spacingAndGlyphs">TradingView</text>
</svg></body></html>
